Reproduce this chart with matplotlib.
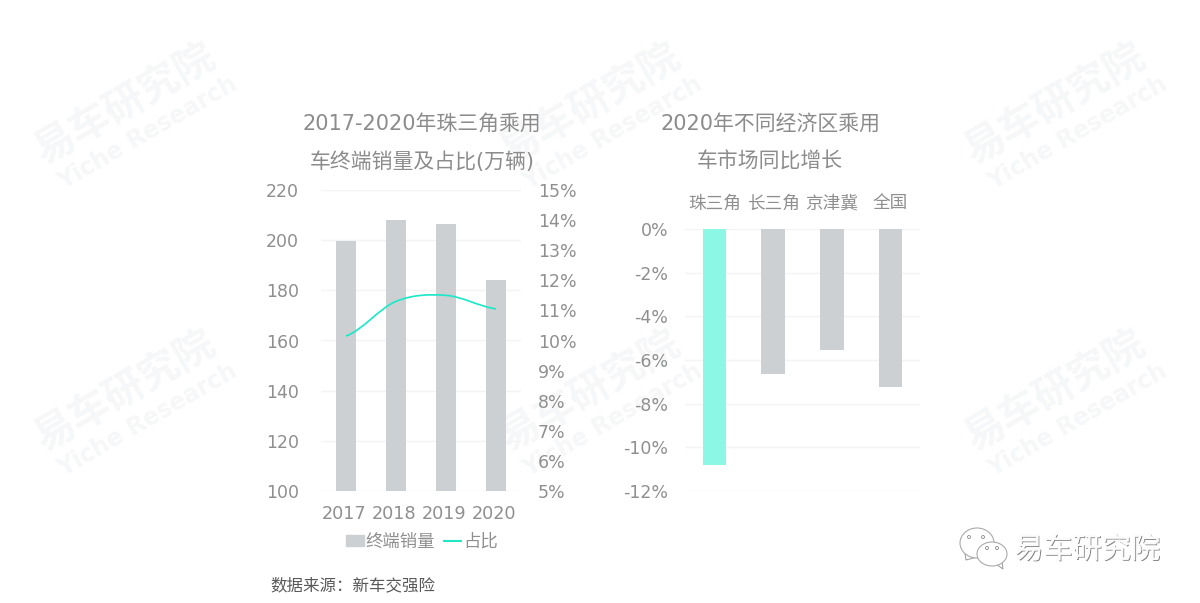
import matplotlib
matplotlib.use('Agg')
import matplotlib.pyplot as plt
import matplotlib.patheffects as pe
from matplotlib.path import Path
from matplotlib.patches import PathPatch, Ellipse, Polygon, Circle
from matplotlib.lines import Line2D
from matplotlib.ticker import FuncFormatter
from matplotlib.transforms import ScaledTranslation

plt.rcParams['font.family'] = ['DejaVu Sans', 'Noto Sans CJK SC']
plt.rcParams['axes.unicode_minus'] = False

years = ['2017', '2018', '2019', '2020']
sales = [199.5, 208.0, 206.5, 184.0]
share = [10.15, 11.3, 11.5, 11.05]
regions = ['珠三角', '长三角', '京津冀', '全国']
growth = [-10.8, -6.65, -5.55, -7.25]
left_title = ['2017-2020年珠三角乘用', '车终端销量及占比(万辆)']
right_title = ['2020年不同经济区乘用', '车市场同比增长']
legend_labels = ['终端销量', '占比']
source_text = '数据来源：新车交强险'
brand_cn = '易车研究院'
brand_en = 'Yiche Research'

W, H = 1200, 603
TXT = '#8f8f8f'
GRID = '#f3f4f5'
BAR = '#ccd0d3'
TEAL = '#8bf7e4'
LINE = '#1fe8c8'

fig = plt.figure(figsize=(W / 100, H / 100), dpi=100, facecolor='white')


def fx(x):
    return x / W


def fy(y):
    return 1 - y / H


def axes_px(x0, y0, x1, y1):
    return fig.add_axes([fx(x0), fy(y1), (x1 - x0) / W, (y1 - y0) / H], facecolor='none')


# Watermarks, behind the charts
for cx, cy in [(125, 105), (590, 105), (1055, 105), (125, 392), (590, 392), (1055, 392)]:
    fig.text(fx(cx), fy(cy), brand_cn, fontsize=29, fontweight='bold', color='#f6f7f8',
             rotation=30, ha='center', va='center', rotation_mode='anchor',
             family=['Noto Sans CJK SC'], zorder=-1)
    fig.text(fx(cx + 23), fy(cy + 28), brand_en, fontsize=17, fontweight='bold', color='#f6f7f8',
             rotation=30, ha='center', va='center', rotation_mode='anchor',
             family=['DejaVu Sans'], zorder=-1)


def style(ax):
    for s in ax.spines.values():
        s.set_visible(False)
    ax.tick_params(length=0, labelcolor=TXT)


# Left chart
ax = axes_px(321, 190, 521, 491)
ax.set_xlim(-0.5, 3.5)
ax.set_ylim(100, 220)
ax.set_yticks(range(100, 221, 20))
ax.grid(axis='y', color=GRID, lw=1)
ax.set_axisbelow(True)
ax.bar(range(4), sales, width=0.4, color=BAR, zorder=2)
ax.set_xticks(range(4))
ax.set_xticklabels(years)
style(ax)
ax.tick_params(axis='y', labelsize=12.5, pad=16)
ax.tick_params(axis='x', labelsize=12.7, pad=10)
shift = ScaledTranslation(-2 / 100, 0, fig.dpi_scale_trans)
for label in ax.get_xticklabels():
    label.set_transform(label.get_transform() + shift)

ax2 = ax.twinx()
ax2.set_ylim(5, 15)
ax2.set_yticks(range(5, 16))
ax2.yaxis.set_major_formatter(FuncFormatter(lambda v, _: f'{v:.0f}%'))
style(ax2)
ax2.tick_params(axis='y', labelsize=12.5, pad=12)

# Smooth curve through the share values, one Bezier segment per interval
xs = list(range(len(share)))
verts = [(xs[0], share[0])]
codes = [Path.MOVETO]
for i in range(len(share) - 1):
    p0 = share[max(i - 1, 0)]
    p1 = share[i]
    p2 = share[i + 1]
    p3 = share[min(i + 2, len(share) - 1)]
    verts += [(xs[i] + 1 / 3, p1 + (p2 - p0) / 6), (xs[i + 1] - 1 / 3, p2 - (p3 - p1) / 6), (xs[i + 1], p2)]
    codes += [Path.CURVE4] * 3
ax2.add_patch(PathPatch(Path(verts, codes), fill=False, edgecolor=LINE, lw=1.25, zorder=3))

handles = [plt.Rectangle((0, 0), 1, 1, color=BAR), Line2D([0], [0], color=LINE, lw=1.5)]
fig.legend(handles, legend_labels, loc='center', bbox_to_anchor=(fx(422), fy(542)), ncols=2,
           frameon=False, fontsize=12.5, labelcolor=TXT, handlelength=1.0, handleheight=0.6,
           handletextpad=0.1, columnspacing=0.5, borderpad=0)

# Right chart
bx = axes_px(685, 229, 920, 491)
bx.set_xlim(-0.5, 3.5)
bx.set_ylim(-12, 0)
bx.set_yticks(range(-12, 1, 2))
bx.yaxis.set_major_formatter(FuncFormatter(lambda v, _: f'{v:.0f}%'))
bx.grid(axis='y', color=GRID, lw=1)
bx.set_axisbelow(True)
bx.bar(range(4), growth, width=0.4, color=[TEAL, BAR, BAR, BAR], zorder=2)
bx.xaxis.tick_top()
bx.set_xticks(range(4))
bx.set_xticklabels(regions)
style(bx)
bx.tick_params(axis='y', labelsize=12.5, pad=12)
bx.tick_params(axis='x', labelsize=12.7, pad=12)

# Titles
for cx, lines in [(422, left_title), (770, right_title)]:
    for cy, line in zip((123.5, 161.5), lines):
        fig.text(fx(cx), fy(cy), line, fontsize=15, color='#8c8c8c', ha='center', va='center')

# Source
fig.text(fx(270), fy(585), source_text, fontsize=11.9, color='#595959', ha='left', va='center')

# Brand mark, bottom right
fig.text(fx(1087), fy(550), brand_cn, fontsize=21, color='#fbfbfb', ha='center', va='center',
         family=['Noto Sans CJK SC'], zorder=5,
         path_effects=[pe.withSimplePatchShadow(offset=(0.7, -0.7), shadow_rgbFace='#777777', alpha=0.9),
                       pe.Normal()])
logo = fig.add_axes([0, 0, 1, 1], facecolor='none')
logo.set_xlim(0, W)
logo.set_ylim(H, 0)
logo.axis('off')
for cx, cy, rx, ry, tail, dots in [
    (977, 543, 17, 15, [(965, 554), (966, 560), (977, 557)], [(969, 537), (983, 537)]),
    (992, 554, 15, 12, [(996, 564), (1003, 569), (1002, 560)], [(987, 548), (997, 548)]),
]:
    logo.add_patch(Polygon(tail, closed=True, fc='white', ec='#999999', lw=0.7, zorder=2))
    logo.add_patch(Ellipse((cx, cy), 2 * rx, 2 * ry, fc='white', ec='#aaaaaa', lw=0.8, zorder=3))
    for dx, dy in dots:
        logo.add_patch(Circle((dx, dy), 1.5, fc='white', ec='#888888', lw=0.6, zorder=4))

fig.savefig('out.png', dpi=100, facecolor='white')
